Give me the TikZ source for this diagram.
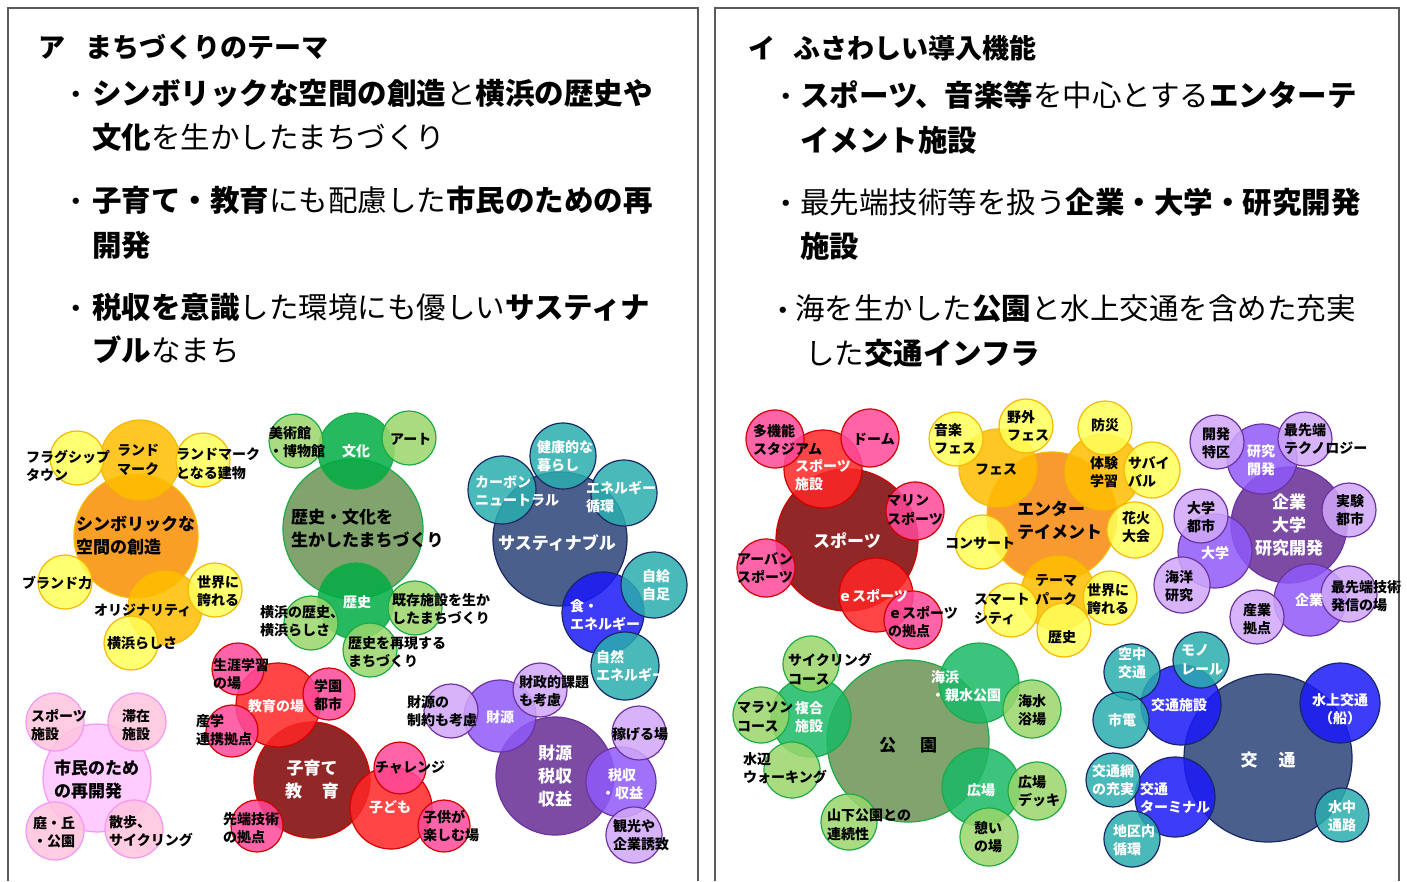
\documentclass[tikz,border=0pt]{standalone}
\usepackage{fontspec}
\newfontfamily\jp{Noto Sans CJK JP}
\definecolor{cOrange}{RGB}{249,143,0}
\definecolor{cGold}{RGB}{255,190,0}
\definecolor{cLtYel}{RGB}{255,255,90}
\definecolor{bYel}{RGB}{245,185,0}
\definecolor{cOlive}{RGB}{108,149,85}
\definecolor{cGreen}{RGB}{0,173,67}
\definecolor{cLtGreen}{RGB}{155,214,108}
\definecolor{bGreen}{RGB}{30,170,70}
\definecolor{cParkG}{RGB}{26,185,102}
\definecolor{cSlate}{RGB}{43,67,120}
\definecolor{cTeal}{RGB}{43,173,173}
\definecolor{cBlue}{RGB}{26,26,249}
\definecolor{bNavy}{RGB}{25,40,100}
\definecolor{cPinkMain}{RGB}{255,196,255}
\definecolor{cPeach}{RGB}{255,196,222}
\definecolor{bPink}{RGB}{245,150,245}
\definecolor{cDarkRed}{RGB}{126,2,2}
\definecolor{cRed}{RGB}{255,38,38}
\definecolor{cHotPink}{RGB}{255,73,155}
\definecolor{bRed}{RGB}{210,0,0}
\definecolor{cPurple}{RGB}{102,44,149}
\definecolor{cMedPur}{RGB}{143,90,249}
\definecolor{cLtPur}{RGB}{208,167,249}
\definecolor{bPur}{RGB}{110,50,160}
\definecolor{cEntOr}{RGB}{249,137,14}
\definecolor{cPanel}{RGB}{90,90,90}
\tikzset{
  bub/.style={circle, inner sep=0pt, line width=1.2pt, fill opacity=0.85, draw opacity=1},
  yMain/.style={bub, fill=cOrange, draw=bYel},
  eMain/.style={bub, fill=cEntOr, draw=bYel},
  yMid/.style={bub, fill=cGold, draw=bYel},
  yLt/.style={bub, fill=cLtYel, draw=bYel},
  gMain/.style={bub, fill=cOlive, draw=bGreen},
  gMid/.style={bub, fill=cGreen, draw=bGreen},
  kMid/.style={bub, fill=cParkG, draw=bGreen},
  gLt/.style={bub, fill=cLtGreen, draw=bGreen},
  sMain/.style={bub, fill=cSlate, draw=bNavy},
  sTeal/.style={bub, fill=cTeal, draw=bNavy},
  sBlue/.style={bub, fill=cBlue, draw=bNavy},
  pMain/.style={bub, fill=cPinkMain, draw=bPink},
  pLt/.style={bub, fill=cPeach, draw=bPink},
  rMain/.style={bub, fill=cDarkRed, draw=bRed},
  rRed/.style={bub, fill=cRed, draw=bRed},
  rPink/.style={bub, fill=cHotPink, draw=bRed},
  uMain/.style={bub, fill=cPurple, draw=bPur},
  uMed/.style={bub, fill=cMedPur, draw=bPur},
  uLt/.style={bub, fill=cLtPur, draw=bPur},
  lb/.style={font=\jp\bfseries\fontsize{14}{18.5}\selectfont, align=left, anchor=west, inner sep=0pt, text=black},
  lw/.style={lb, text=white},
  mb/.style={font=\jp\bfseries\fontsize{17}{23}\selectfont, align=left, anchor=west, inner sep=0pt, text=black},
  mw/.style={mb, text=white},
  hd/.style={font=\jp\fontsize{29.5}{36}\selectfont, anchor=west, inner sep=0pt, text=black},
  ttl/.style={font=\jp\bfseries\fontsize{27}{32}\selectfont, anchor=west, inner sep=0pt, text=black},
  dot/.style={font=\jp\fontsize{29.5}{36}\selectfont, inner sep=0pt, text=black},
  panel/.style={draw=cPanel, line width=1.6pt},
}
\newcommand{\bb}[5]{\node[#2, minimum size={2*#5pt}] (#1) at (#3,#4) {};}
\begin{document}
\begin{tikzpicture}[x=1pt,y=-1pt]
\useasboundingbox (0,0) rectangle (1407,881);
\fill[white] (0,0) rectangle (1407,881);
% panels
\coordinate (pl1) at (8,881); \coordinate (pl2) at (8,8); \coordinate (pl3) at (698,8); \coordinate (pl4) at (698,881);
\draw[panel] (pl1) -- (pl2) -- (pl3) -- (pl4);
\coordinate (pr1) at (715,881); \coordinate (pr2) at (715,8); \coordinate (pr3) at (1399,8); \coordinate (pr4) at (1399,881);
\draw[panel] (pr1) -- (pr2) -- (pr3) -- (pr4);
% headings left
\node[ttl] (T1) at (38,47) {ア\hspace{20pt}まちづくりのテーマ};
\node[dot] (d1) at (76,98) {・};
\node[hd] (h1) at (92,93) {\bfseries シンボリックな空間の創造\mdseries と\bfseries 横浜の歴史や};
\node[hd] (h2) at (92,137) {\bfseries 文化\mdseries を生かしたまちづくり};
\node[dot] (d2) at (76,205) {・};
\node[hd] (h3) at (92,200) {\bfseries 子育て・教育\mdseries にも配慮した\bfseries 市民のための再};
\node[hd] (h4) at (92,245) {\bfseries 開発};
\node[dot] (d3) at (76,312) {・};
\node[hd] (h5) at (92,307) {\bfseries 税収を意識\mdseries した環境にも優しい\bfseries サスティナ};
\node[hd] (h6) at (92,350) {\bfseries ブル\mdseries なまち};
% headings right
\node[ttl] (T2) at (748,48) {イ\hspace{18pt}ふさわしい導入機能};
\node[dot] (d4) at (786,100) {・};
\node[hd] (h7) at (800,95) {\bfseries スポーツ、音楽等\mdseries を中心とする\bfseries エンターテ};
\node[hd] (h8) at (800,140) {\bfseries イメント施設};
\node[dot] (d5) at (786,207) {・};
\node[hd] (h9) at (800,202) {最先端技術等を扱う\bfseries 企業・大学・研究開発};
\node[hd] (h10) at (800,246) {\bfseries 施設};
\node[dot] (d6) at (783,314) {・};
\node[hd] (h11) at (795,309) {海を生かした\bfseries 公園\mdseries と水上交通を含めた充実};
\node[hd] (h12) at (805,353) {した\bfseries 交通インフラ};

% ===== left: symbolic
\bb{ySym}{yMain}{136}{536}{62}
\bb{yLand}{yMid}{140}{460}{40}
\bb{yOri}{yMid}{165}{608}{37}
\bb{yFlag}{yLt}{77}{458}{27}
\bb{yLandB}{yLt}{203}{460}{27}
\bb{yBrand}{yLt}{65}{582}{27}
\bb{yWorld}{yLt}{215}{590}{27}
\bb{yYoko}{yLt}{131}{643}{27}
% ===== left: history & culture
\bb{gMainC}{gMain}{353}{529}{70}
\bb{gBunka}{gMid}{356}{451}{38}
\bb{gReki}{gMid}{356}{601}{38}
\bb{gArt1}{gLt}{296}{441}{27}
\bb{gArt2}{gLt}{409}{438}{27}
\bb{gY}{gLt}{311}{623}{27}
\bb{gK}{gLt}{415}{608}{27}
\bb{gR}{gLt}{370}{650}{27}
% ===== left: sustainable
\bb{sMainC}{sMain}{560}{539}{67}
\bb{sFood}{sBlue}{603}{613}{41}
\bb{sHealth}{sTeal}{563}{456}{33}
\bb{sCarb}{sTeal}{502}{490}{34}
\bb{sEne}{sTeal}{624}{493}{33}
\bb{sSelf}{sTeal}{654}{585}{33}
\bb{sNat}{sTeal}{625}{666}{34}
% ===== left: citizens
\bb{pMainC}{pMain}{97}{778}{54}
\bb{pA}{pLt}{55}{722}{29}
\bb{pB}{pLt}{137}{722}{29}
\bb{pC}{pLt}{55}{831}{29}
\bb{pD}{pLt}{134}{829}{29}
% ===== left: education
\bb{rMainC}{rMain}{312}{780}{58}
\bb{rEdu}{rRed}{278}{705}{42}
\bb{rKid}{rRed}{391}{808}{41}
\bb{rL}{rPink}{238}{669}{26}
\bb{rG}{rPink}{329}{694}{26}
\bb{rS}{rPink}{232}{731}{26}
\bb{rC}{rPink}{400}{768}{26}
\bb{rP}{rPink}{444}{826}{26}
\bb{rT}{rPink}{257}{826}{26}
% ===== left: finance
\bb{uMainC}{uMain}{555}{776}{59}
\bb{uZ}{uMed}{500}{716}{36}
\bb{uT}{uMed}{621}{782}{35}
\bb{uA}{uLt}{451}{711}{27}
\bb{uB}{uLt}{540}{690}{27}
\bb{uC}{uLt}{639}{733}{27}
\bb{uD}{uLt}{634}{835}{28}
% ===== right: sports
\bb{spMain}{rMain}{847}{540}{71}
\bb{spFac}{rRed}{823}{469}{39}
\bb{spE}{rRed}{876}{595}{37}
\bb{spA}{rPink}{775}{439}{29}
\bb{spB}{rPink}{870}{438}{29}
\bb{spC}{rPink}{915}{511}{29}
\bb{spD}{rPink}{766}{568}{29}
\bb{spF}{rPink}{913}{620}{29}
% ===== right: entertainment
\bb{eMainC}{eMain}{1052}{517}{65}
\bb{eFes}{yMid}{998}{468}{39}
\bb{eExp}{yMid}{1103}{472}{38}
\bb{eTheme}{yMid}{1058}{593}{37}
\bb{eA}{yLt}{956}{439}{27}
\bb{eB}{yLt}{1026}{426}{27}
\bb{eC}{yLt}{1105}{428}{27}
\bb{eD}{yLt}{1152}{470}{28}
\bb{eE}{yLt}{1135}{530}{28}
\bb{eF}{yLt}{982}{542}{27}
\bb{eG}{yLt}{1011}{610}{27}
\bb{eH}{yLt}{1110}{598}{27}
\bb{eI}{yLt}{1064}{630}{27}
% ===== right: company
\bb{cMain}{uMain}{1289}{525}{58}
\bb{cRD}{uMed}{1262}{459}{35}
\bb{cU}{uMed}{1215}{551}{37}
\bb{cC}{uMed}{1310}{600}{36}
\bb{cA}{uLt}{1217}{442}{27}
\bb{cB}{uLt}{1305}{439}{27}
\bb{cE}{uLt}{1349}{510}{27}
\bb{cF}{uLt}{1201}{516}{27}
\bb{cG}{uLt}{1182}{585}{28}
\bb{cH}{uLt}{1349}{594}{28}
\bb{cI}{uLt}{1257}{617}{27}
% ===== right: park
\bb{kMain}{gMain}{908}{741}{81}
\bb{kFuku}{kMid}{811}{717}{40}
\bb{kBeach}{kMid}{979}{683}{40}
\bb{kPlaza}{kMid}{981}{787}{39}
\bb{kA}{gLt}{811}{664}{28}
\bb{kB}{gLt}{761}{715}{28}
\bb{kC}{gLt}{792}{770}{28}
\bb{kD}{gLt}{1032}{709}{29}
\bb{kE}{gLt}{1037}{791}{29}
\bb{kF}{gLt}{989}{837}{29}
\bb{kG}{gLt}{849}{822}{28}
% ===== right: transport
\bb{tMain}{sMain}{1268}{758}{84}
\bb{tFac}{sBlue}{1181}{705}{40}
\bb{tWat}{sBlue}{1340}{703}{40}
\bb{tTerm}{sBlue}{1175}{797}{40}
\bb{tA}{sTeal}{1132}{672}{28}
\bb{tB}{sTeal}{1201}{660}{28}
\bb{tC}{sTeal}{1121}{720}{28}
\bb{tD}{sTeal}{1113}{780}{27}
\bb{tE}{sTeal}{1132}{839}{28}
\bb{tF}{sTeal}{1342}{815}{27}

% ===== labels left
\node[lb] (L1) at (26,466) {フラグシップ\\タウン};
\node[lb] (L2) at (117,460) {ランド\\マーク};
\node[lb] (L3) at (176,464) {ランドマーク\\となる建物};
\node[mb] (L4) at (76,536) {シンボリックな\\空間の創造};
\node[lb] (L5) at (22,583) {ブランド力};
\node[lb] (L6) at (94,610) {オリジナリティ};
\node[lb] (L7) at (197,591) {世界に\\誇れる};
\node[lb] (L8) at (107,643) {横浜らしさ};
\node[lb] (L9) at (269,442) {美術館\\・博物館};
\node[lw, anchor=center] (L10) at (356,451) {文化};
\node[lb] (L11) at (390,439) {アート};
\node[mb] (L12) at (291,529) {歴史・文化を\\生かしたまちづくり};
\node[lw, anchor=center] (L13) at (357,602) {歴史};
\node[lb] (L14) at (260,621) {横浜の歴史、\\横浜らしさ};
\node[lb] (L15) at (392,609) {既存施設を生か\\したまちづくり};
\node[lb] (L16) at (348,652) {歴史を再現する\\まちづくり};
\node[lw] (L17) at (537,456) {健康的な\\暮らし};
\node[lw] (L18) at (475,491) {カーボン\\ニュートラル};
\node[lw] (L19) at (586,497) {エネルギー\\循環};
\node[mw] (L20) at (498,543) {サスティナブル};
\node[lw] (L21) at (642,585) {自給\\自足};
\node[lw] (L22) at (570,615) {食・\\エネルギー};
\node[lw] (L23) at (596,666) {自然\\エネルギー};
\node[mb] (L24) at (54,780) {市民のため\\の再開発};
\node[lb] (L25) at (31,725) {スポーツ\\施設};
\node[lb] (L26) at (122,725) {滞在\\施設};
\node[lb] (L27) at (33,832) {庭・丘\\・公園};
\node[lb] (L28) at (109,831) {散歩、\\サイクリング};
\node[lb] (L29) at (213,674) {生涯学習\\の場};
\node[lw] (L30) at (248,706) {教育の場};
\node[lb] (L31) at (314,695) {学園\\都市};
\node[lb] (L32) at (196,730) {産学\\連携拠点};
\node[mw, anchor=center, align=center] (L33) at (312,780) {子育て\\教\hspace{20pt}育};
\node[lb] (L34) at (375,767) {チャレンジ};
\node[lw, anchor=center] (L35) at (390,807) {子ども};
\node[lb] (L36) at (423,826) {子供が\\楽しむ場};
\node[lb] (L37) at (223,828) {先端技術\\の拠点};
\node[lb] (L38) at (407,711) {財源の\\制約も考慮};
\node[lw, anchor=center] (L39) at (500,717) {財源};
\node[lb] (L40) at (519,691) {財政的課題\\も考慮};
\node[mw, anchor=center, align=center] (L41) at (555,776) {財源\\税収\\収益};
\node[lb] (L42) at (612,734) {稼げる場};
\node[lw, anchor=center, align=center] (L43) at (622,784) {税収\\・収益};
\node[lb] (L44) at (613,835) {観光や\\企業誘致};

% ===== labels right
\node[lb] (R1) at (753,440) {多機能\\スタジアム};
\node[lb] (R2) at (853,439) {ドーム};
\node[lw] (R3) at (795,475) {スポーツ\\施設};
\node[lb] (R4) at (887,510) {マリン\\スポーツ};
\node[mw, anchor=center] (R5) at (847,541) {スポーツ};
\node[lw, anchor=center] (R6) at (873,596) {ｅスポーツ};
\node[lb] (R7) at (888,622) {ｅスポーツ\\の拠点};
\node[lb] (R8) at (737,568) {アーバン\\スポーツ};
\node[lb] (R9) at (934,439) {音楽\\フェス};
\node[lb] (R10) at (1007,426) {野外\\フェス};
\node[lb] (R11) at (1091,425) {防災};
\node[lb] (R12) at (975,470) {フェス};
\node[lb] (R13) at (1090,472) {体験\\学習};
\node[lb] (R14) at (1128,472) {サバイ\\バル};
\node[mb] (R15) at (1017,520) {エンター\\テイメント};
\node[lb] (R16) at (1122,527) {花火\\大会};
\node[lb] (R17) at (945,543) {コンサート};
\node[lb] (R18) at (1035,590) {テーマ\\パーク};
\node[lb] (R19) at (974,609) {スマート\\シティ};
\node[lb] (R20) at (1087,599) {世界に\\誇れる};
\node[lb] (R21) at (1048,637) {歴史};
\node[lb] (R22) at (1202,443) {開発\\特区};
\node[lw] (R23) at (1247,460) {研究\\開発};
\node[lb] (R24) at (1284,439) {最先端\\テクノロジー};
\node[mw, anchor=center, align=center] (R25) at (1289,525) {企業\\大学\\研究開発};
\node[lb] (R26) at (1336,510) {実験\\都市};
\node[lb] (R27) at (1187,517) {大学\\都市};
\node[lw] (R28) at (1201,553) {大学};
\node[lb] (R29) at (1165,586) {海洋\\研究};
\node[lw] (R30) at (1295,600) {企業};
\node[lb] (R31) at (1331,596) {最先端技術\\発信の場};
\node[lb] (R32) at (1243,619) {産業\\拠点};
\node[lb] (R33) at (788,669) {サイクリング\\コース};
\node[lb] (R34) at (737,717) {マラソン\\コース};
\node[lw] (R35) at (795,717) {複合\\施設};
\node[lb] (R36) at (743,768) {水辺\\ウォーキング};
\node[mb, anchor=center] (R37) at (908,745) {公\hspace{24pt}園};
\node[lw] (R38) at (931,686) {海浜\\・親水公園};
\node[lb] (R39) at (1018,710) {海水\\浴場};
\node[lw] (R40) at (967,790) {広場};
\node[lb] (R41) at (1018,791) {広場\\デッキ};
\node[lb] (R42) at (974,837) {憩い\\の場};
\node[lb] (R43) at (827,825) {山下公園との\\連続性};
\node[lw] (R44) at (1118,663) {空中\\交通};
\node[lw] (R45) at (1181,660) {モノ\\レール};
\node[lw] (R46) at (1151,705) {交通施設};
\node[lw] (R47) at (1108,720) {市電};
\node[lw, anchor=center, align=center] (R48) at (1340,709) {水上交通\\（船）};
\node[mw, anchor=center] (R49) at (1268,760) {交\hspace{21pt}通};
\node[lw] (R50) at (1092,780) {交通網\\の充実};
\node[lw] (R51) at (1140,798) {交通\\ターミナル};
\node[lw] (R52) at (1113,840) {地区内\\循環};
\node[lw] (R53) at (1328,816) {水中\\通路};
\end{tikzpicture}
\end{document}
